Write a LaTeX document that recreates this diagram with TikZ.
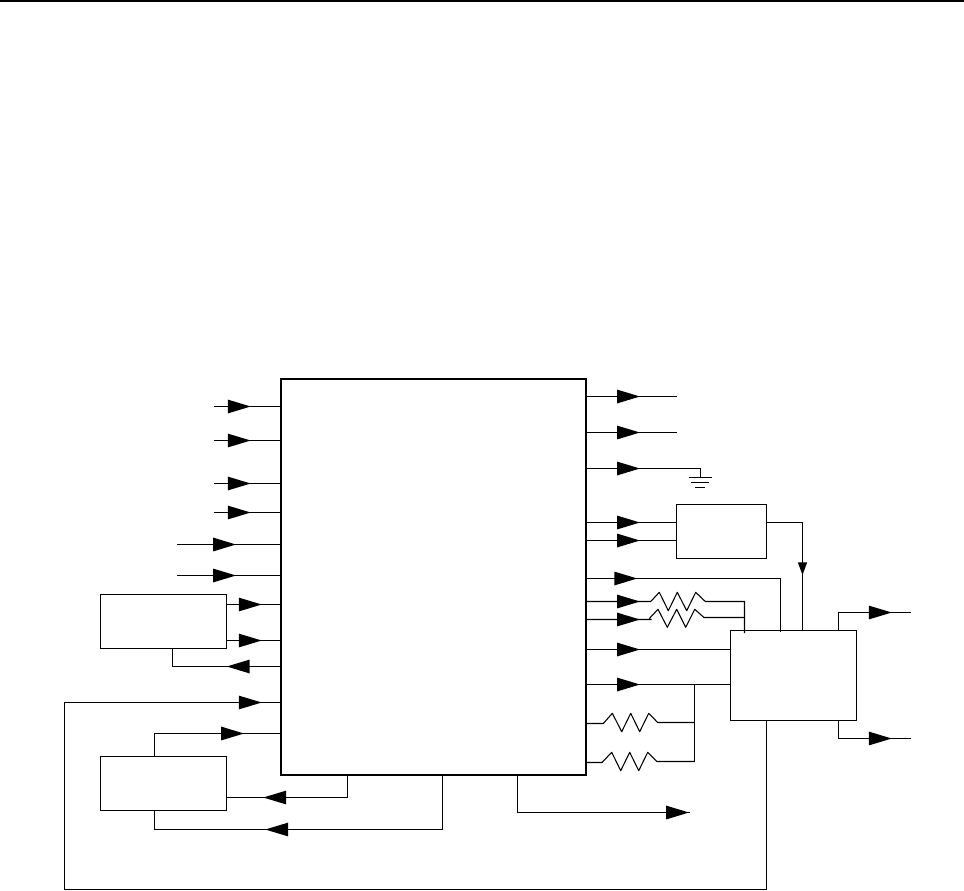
\documentclass[tikz,border=0pt]{standalone}
\usetikzlibrary{decorations.markings}
\tikzset{
  wire/.style={draw=black,line width=0.8pt,line cap=butt,line join=miter},
  blockbox/.style={draw=black,line width=0.8pt,fill=white,inner sep=0pt,outer sep=0pt,anchor=north west,minimum width=94.5pt,minimum height=40.5pt},
  mainbox/.style={blockbox,line width=1.5pt,minimum width=229.1pt,minimum height=297pt},
  tip/.style={postaction={decorate,decoration={markings,mark=at position #1*0.75pt with {\fill[black] (0,0) -- (-17.2pt,5.2pt) -- (-17.2pt,-5.2pt) -- cycle;}}}},
  smalltip/.style={postaction={decorate,decoration={markings,mark=at position #1*0.75pt with {\fill[black] (0,0) -- (-9.5pt,3.5pt) -- (-9.5pt,-3.5pt) -- cycle;}}}}
}
\begin{document}
\begin{tikzpicture}[x=0.75pt,y=-0.75pt]
\useasboundingbox (0,0) rectangle (964,890);
\fill[white] (0,0) rectangle (964,890);
\draw[line width=1.5pt] (0,1) -- (964,1);

% blocks
\node[mainbox] (main) at (280.5,379) {};
\node[blockbox] (A) at (100.5,594.5) {};
\node[blockbox] (D) at (100.5,756.5) {};
\node[blockbox,minimum width=67.5pt] (B) at (676.5,504.5) {};
\node[blockbox,minimum height=67.5pt] (C) at (730.5,630.5) {};

% free ends
\coordinate (ro1) at (677,396.5);
\coordinate (ro2) at (677,432.5);
\coordinate (gnd) at (700.5,468.5);
\coordinate (li1) at (214,406.5);
\coordinate (li2) at (214,440.5);
\coordinate (li3) at (214,483.5);
\coordinate (li4) at (214,512.5);
\coordinate (li5) at (177,544.5);
\coordinate (li6) at (177,575.5);
\coordinate (y4) at (600,522.5);
\coordinate (y5) at (600,540.5);
\coordinate (y9) at (600,649.5);
\coordinate (y10) at (600,684.5);
\coordinate (aout1) at (250,604.5);
\coordinate (aout2) at (250,640.5);
\coordinate (ain) at (172.5,666.5);
\coordinate (dtop) at (154.5,733.5);
\coordinate (dr) at (347.5,797.5);
\coordinate (db) at (442.5,829.5);
\coordinate (dbl) at (154.5,829.5);
\coordinate (bo) at (517.5,812.5);
\coordinate (boe) at (690,812.5);
\coordinate (bout) at (802.5,522.5);
\coordinate (co1) at (838.5,612.5);
\coordinate (co1e) at (911,612.5);
\coordinate (co2) at (838.5,738.5);
\coordinate (co2e) at (911,738.5);
\coordinate (loopa) at (766.5,889.5);
\coordinate (loopb) at (64.5,889.5);
\coordinate (loopc) at (64.5,702.5);
\coordinate (y6) at (780.5,578.5);
\coordinate (y6e) at (780.5,632);
\coordinate (rj) at (744.5,601.5);
\coordinate (rje) at (744.5,633);
\coordinate (rk) at (744.5,617.5);
\coordinate (j10) at (694.5,684.5);
\coordinate (j3) at (694.5,722.5);
\coordinate (j4) at (694.5,761.5);

% ground symbol
\draw[wire,tip=54] (main.east |- gnd) -- (gnd) -- ++(0,9);
\draw[wire] (689,477.5) -- (712,477.5) (691,482.5) -- (709,482.5) (695,487.5) -- (705,487.5);

% right outputs
\draw[wire,tip=54] (main.east |- ro1) -- (ro1);
\draw[wire,tip=54] (main.east |- ro2) -- (ro2);
\draw[wire,tip=54] (main.east |- y4) -- (B.west |- y4);
\draw[wire,tip=54] (main.east |- y5) -- (B.west |- y5);
\draw[wire,tip=51.3] (main.east |- y6) -- (y6) -- (y6e);
\draw[wire,tip=54] (main.east |- y9) -- (C.west |- y9);
\draw[wire,tip=54] (main.east |- y10) -- (C.west |- y10);
\draw[wire] (j10) -- (j4);

% resistors
\draw[wire,tip=54,line join=round] (main.east |- 0,601.5) -- (650.7,601.5) -- (659.3,592.3) -- (668.3,610.7) -- (677.3,592.3) -- (686.7,610.7) -- (695.7,592.3) -- (705.3,601.5) -- (rj) -- (rje);
\draw[wire,tip=54,line join=round] (main.east |- 0,619.5) -- (651.5,619.5) (649.3,618.5) -- (658,609.3) -- (667.3,627.3) -- (676.7,609.3) -- (685.7,627.3) -- (694.7,609.3) -- (704,617.5) -- (rk);
\draw[wire,line join=round] (main.east |- 0,723.5) -- (603.3,723.5) -- (612.3,713.3) -- (621.7,731.7) -- (630.7,713.3) -- (639.7,731.7) -- (648.7,713.3) -- (657.7,722.5) -- (j3);
\draw[wire,line join=round] (main.east |- 0,762.5) -- (602,762.5) -- (611.7,752.3) -- (620.7,770.7) -- (629.7,752.3) -- (638.7,770.7) -- (647.7,752.3) -- (657,761.5) -- (j4);

% B to C
\draw[wire,smalltip=88.5] (B.east |- bout) -- (bout) -- (bout |- C.north);

% C outputs
\draw[wire,tip=71.2] (co1 |- C.north) -- (co1) -- (co1e);
\draw[wire,tip=71.2] (co2 |- C.south) -- (co2) -- (co2e);

% left inputs
\draw[wire,tip=36.7] (li1) -- (li1 -| main.west);
\draw[wire,tip=36.7] (li2) -- (li2 -| main.west);
\draw[wire,tip=36.7] (li3) -- (li3 -| main.west);
\draw[wire,tip=36.7] (li4) -- (li4 -| main.west);
\draw[wire,tip=59] (li5) -- (li5 -| main.west);
\draw[wire,tip=59] (li6) -- (li6 -| main.west);

% block A
\draw[wire,tip=35.2] (A.east |- aout1) -- (main.west |- aout1);
\draw[wire,tip=35.2] (A.east |- aout2) -- (main.west |- aout2);
\draw[wire,tip=53.8] (main.west |- ain) -- (ain) -- (ain |- A.south);

% long loop
\draw[wire,tip=1255.2] (loopa |- C.south) -- (loopa) -- (loopb) -- (loopc) -- (main.west |- loopc);

% block D
\draw[wire,tip=112.5] (dtop |- D.north) -- (dtop) -- (main.west |- dtop);
\draw[wire,tip=106.7] (dr |- main.south) -- (dr) -- (D.east |- dr);
\draw[wire,tip=231.7] (db |- main.south) -- (db) -- (dbl) -- (dbl |- D.south);

% bottom output
\draw[wire,tip=209] (bo |- main.south) -- (bo) -- (boe);
\end{tikzpicture}
\end{document}
